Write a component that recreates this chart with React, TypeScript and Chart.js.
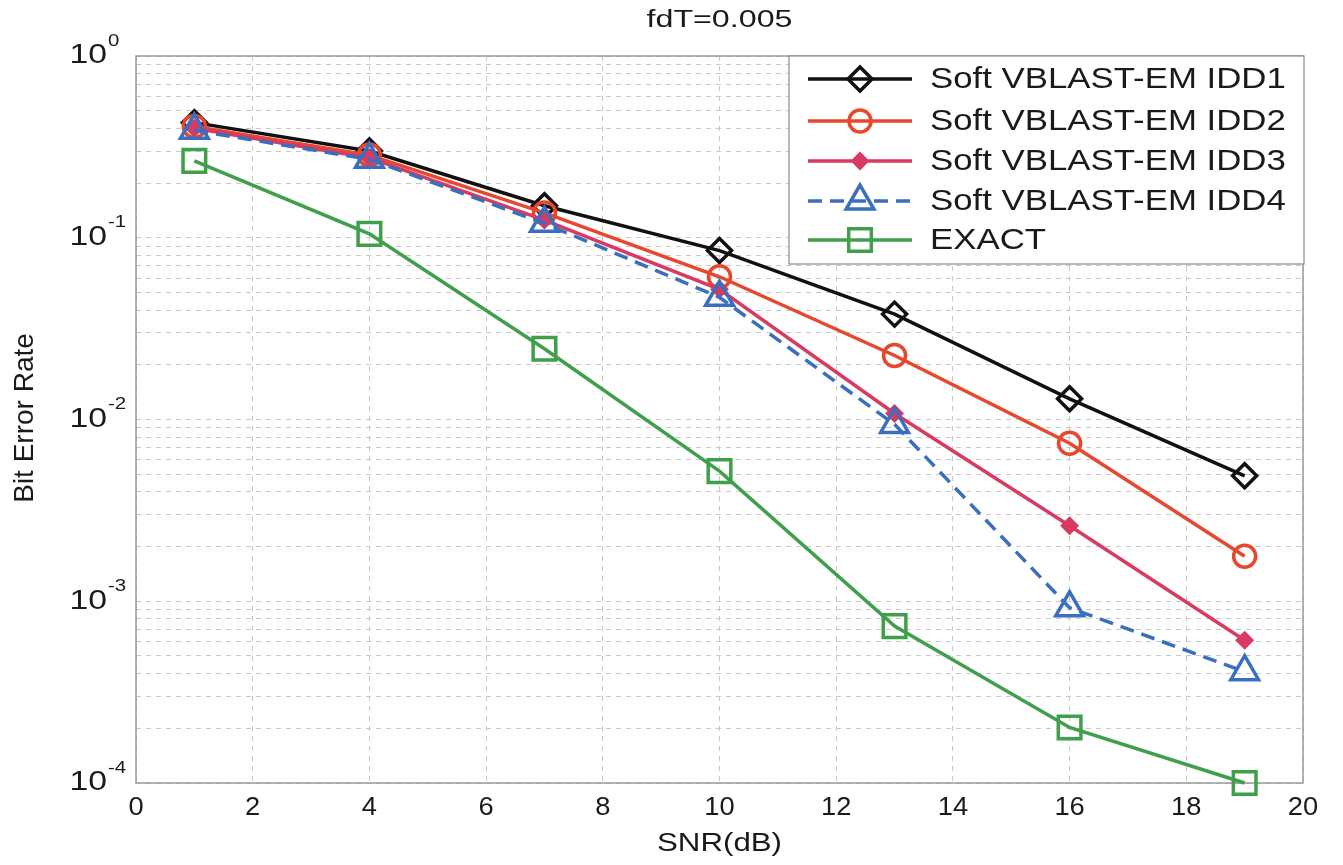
import React, { useEffect, useRef } from 'react';
import { Chart, registerables } from 'chart.js';
import { drawPoint } from 'chart.js/helpers';

Chart.register(...registerables);

// ---- data ----
const snr = [1, 4, 7, 10, 13, 16, 19];
const idd1 = [0.43, 0.3, 0.15, 0.085, 0.038, 0.013, 0.0049];
const idd2 = [0.41, 0.285, 0.137, 0.061, 0.0225, 0.0074, 0.00177];
const idd3 = [0.4, 0.275, 0.125, 0.052, 0.0108, 0.0026, 0.00061];
const idd4 = [0.39, 0.27, 0.12, 0.047, 0.0094, 0.00092, 0.00041];
const exact = [0.265, 0.105, 0.0245, 0.0052, 0.00073, 0.000202, 0.0001];

const seriesNames = [
  'Soft VBLAST-EM IDD1',
  'Soft VBLAST-EM IDD2',
  'Soft VBLAST-EM IDD3',
  'Soft VBLAST-EM IDD4',
  'EXACT',
];
const seriesValues = [idd1, idd2, idd3, idd4, exact];

const xTicks = [0, 2, 4, 6, 8, 10, 12, 14, 16, 18, 20];
const yDecades = [1e-4, 1e-3, 1e-2, 1e-1, 1];
const yExponents = ['-4', '-3', '-2', '-1', '0'];
const titleText = 'fdT=0.005';
const xTitle = 'SNR(dB)';
const yTitle = 'Bit Error Rate';

// ---- styles ----
const styles = [
  { color: '#111111', point: 'rectRot', radius: 12, fill: false, dash: [] as number[] },
  { color: '#e8472e', point: 'circle', radius: 11, fill: false, dash: [] as number[] },
  { color: '#d83a62', point: 'rectRot', radius: 7, fill: true, dash: [] as number[] },
  { color: '#3a6fbf', point: 'triangle', radius: 16, fill: false, dash: [14, 8] },
  { color: '#3f9f4a', point: 'rect', radius: 16, fill: false, dash: [] as number[] },
];

const FONT = '"Liberation Sans", Arial, Helvetica, sans-serif';

function gridValues(): number[] {
  const out: number[] = [];
  for (let e = -4; e < 0; e++) {
    for (let m = 1; m <= 9; m++) out.push(m * Math.pow(10, e));
  }
  out.push(1);
  return out;
}

function stretchText(
  ctx: CanvasRenderingContext2D,
  text: string,
  x: number,
  y: number,
  size: number,
  sx: number,
  align: 'left' | 'center' | 'right'
) {
  ctx.save();
  ctx.font = `${size}px ${FONT}`;
  ctx.textBaseline = 'middle';
  ctx.textAlign = 'left';
  const w = ctx.measureText(text).width * sx;
  const left = align === 'center' ? x - w / 2 : align === 'right' ? x - w : x;
  ctx.translate(left, y);
  ctx.scale(sx, 1);
  ctx.fillText(text, 0, 0);
  ctx.restore();
  return w;
}

const decorPlugin = {
  id: 'decor',
  beforeDatasetsDraw(chart: any) {
    const { ctx, chartArea } = chart;
    ctx.save();
    ctx.strokeStyle = '#9a9a9a';
    ctx.lineWidth = 1.5;
    ctx.setLineDash([]);
    ctx.strokeRect(chartArea.left, chartArea.top, chartArea.right - chartArea.left, chartArea.bottom - chartArea.top);
    ctx.restore();
  },
  afterDraw(chart: any) {
    const { ctx, chartArea } = chart;
    const xs = chart.scales.x;
    const ys = chart.scales.y;
    ctx.save();
    ctx.fillStyle = '#1a1a1a';

    // title
    stretchText(ctx, titleText, (chartArea.left + chartArea.right) / 2, 21, 23, 1.4, 'center');

    // x tick labels
    xTicks.forEach((v) => {
      stretchText(ctx, String(v), xs.getPixelForValue(v), 808, 26, 1.05, 'center');
    });

    // x title
    stretchText(ctx, xTitle, (chartArea.left + chartArea.right) / 2, 844, 25, 1.25, 'center');

    // y tick labels
    yDecades.forEach((v, i) => {
      const py = ys.getPixelForValue(v);
      stretchText(ctx, '10', 107, py, 27, 1.25, 'right');
      stretchText(ctx, yExponents[i], 108, py - 15, 17, 1.2, 'left');
    });

    // y title (rotated)
    ctx.save();
    ctx.translate(25, 418);
    ctx.rotate(-Math.PI / 2);
    ctx.font = `28px ${FONT}`;
    ctx.textAlign = 'center';
    ctx.textBaseline = 'middle';
    ctx.fillText(yTitle, 0, 0);
    ctx.restore();

    // legend
    const bx = 789, by = 56, bw = 1304 - 789, bh = 264 - 56;
    ctx.fillStyle = '#ffffff';
    ctx.fillRect(bx, by, bw, bh);
    ctx.strokeStyle = '#8a8a8a';
    ctx.lineWidth = 1.2;
    ctx.strokeRect(bx, by, bw, bh);
    const rows = [79, 121, 161, 201, 240];
    seriesNames.forEach((name, i) => {
      const st = styles[i];
      const ry = rows[i];
      ctx.save();
      ctx.strokeStyle = st.color;
      ctx.lineWidth = 3.5;
      ctx.setLineDash(st.dash);
      ctx.beginPath();
      ctx.moveTo(808, ry);
      ctx.lineTo(912, ry);
      ctx.stroke();
      ctx.setLineDash([]);
      ctx.fillStyle = st.fill ? st.color : 'rgba(0,0,0,0)';
      ctx.strokeStyle = st.color;
      ctx.lineWidth = 3.5;
      drawPoint(ctx, { pointStyle: st.point as any, radius: st.radius, rotation: 0, borderWidth: 3.5 } as any, 860, ry);
      ctx.restore();
      ctx.fillStyle = '#1a1a1a';
      stretchText(ctx, name, 930, ry + 1, 29, 1.2, 'left');
    });
    ctx.restore();
  },
};

export default function App() {
  const ref = useRef<HTMLCanvasElement>(null);
  useEffect(() => {
    document.body.style.margin = '0';
    const canvas = ref.current!;
    const gv = gridValues();
    const chart = new Chart(canvas, {
      type: 'line',
      data: {
        datasets: seriesNames.map((name, i) => ({
          label: name,
          data: snr.map((x, j) => ({ x, y: seriesValues[i][j] })),
          borderColor: styles[i].color,
          backgroundColor: styles[i].color,
          borderWidth: 3.5,
          borderDash: styles[i].dash,
          pointStyle: styles[i].point as any,
          pointRadius: styles[i].radius,
          pointBorderWidth: 3.5,
          pointBorderColor: styles[i].color,
          pointBackgroundColor: styles[i].fill ? styles[i].color : 'rgba(0,0,0,0)',
          tension: 0,
          clip: false as any,
          order: 5 - i,
        })),
      },
      options: {
        responsive: false,
        animation: false,
        devicePixelRatio: 1,
        layout: { padding: { left: 0, top: 56, right: 40, bottom: 0 } },
        plugins: {
          legend: { display: false },
          title: { display: false },
          tooltip: { enabled: false },
        },
        scales: {
          x: {
            type: 'linear',
            min: 0,
            max: 20,
            afterBuildTicks: (s: any) => {
              s.ticks = xTicks.map((v) => ({ value: v }));
            },
            afterFit: (s: any) => {
              s.height = 82;
            },
            ticks: { display: false },
            grid: { color: '#c8c8c8', lineWidth: 1, drawTicks: false, borderDash: [5, 5] } as any,
            border: { display: false, dash: [5, 5] },
          },
          y: {
            type: 'logarithmic',
            min: 1e-4,
            max: 1,
            afterBuildTicks: (s: any) => {
              s.ticks = gv.map((v) => ({ value: v }));
            },
            afterFit: (s: any) => {
              s.width = 136;
            },
            ticks: { display: false },
            grid: { color: '#c8c8c8', lineWidth: 1, drawTicks: false, borderDash: [5, 5] } as any,
            border: { display: false, dash: [5, 5] },
          },
        },
      },
      plugins: [decorPlugin],
    });
    return () => chart.destroy();
  }, []);
  return <canvas ref={ref} width={1343} height={865} style={{ display: 'block' }} />;
}
